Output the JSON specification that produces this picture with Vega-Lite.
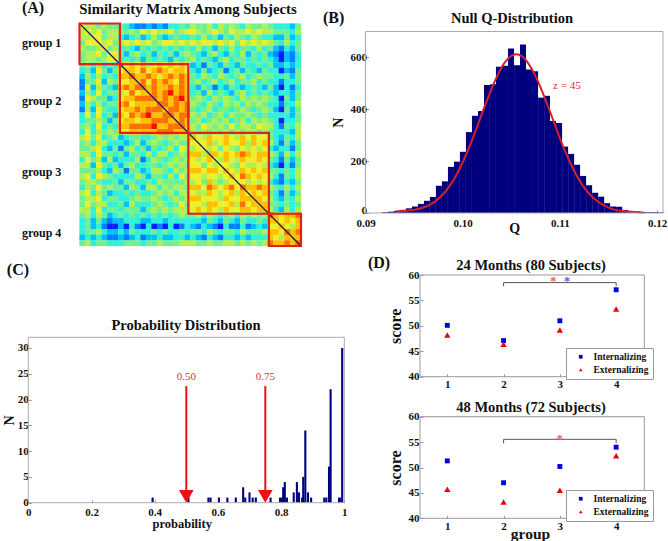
{"$schema":"https://vega.github.io/schema/vega-lite/v6.json","width":668,"height":541,"padding":0,"autosize":{"type":"none"},"background":"white",
"config":{"view":{"stroke":null},"axis":{"grid":false,"domain":false,"labelFont":"Liberation Serif","labelFontWeight":"bold","labelFontSize":11,"labelColor":"#111","tickColor":"#999","tickSize":-3,"labelOverlap":false,"labelFlush":false,"titleFont":"Liberation Serif","titleFontWeight":"bold","titleFontSize":14,"titleColor":"#111"},"text":{"font":"Liberation Serif","fontWeight":"bold","color":"#111"}},
"datasets":{"sim":[
{"r":1,"c":1,"v":6},{"r":1,"c":2,"v":5},{"r":1,"c":3,"v":5},{"r":1,"c":4,"v":4},{"r":1,"c":5,"v":5},{"r":1,"c":6,"v":4},{"r":1,"c":7,"v":4},{"r":1,"c":8,"v":4},{"r":1,"c":9,"v":3},{"r":1,"c":10,"v":2},{"r":1,"c":11,"v":1},{"r":1,"c":12,"v":1},{"r":1,"c":13,"v":2},{"r":1,"c":14,"v":1},{"r":1,"c":15,"v":2},{"r":1,"c":16,"v":1},{"r":1,"c":17,"v":3},{"r":1,"c":18,"v":3},{"r":1,"c":19,"v":4},{"r":1,"c":20,"v":3},{"r":1,"c":21,"v":5},{"r":1,"c":22,"v":4},{"r":1,"c":23,"v":4},{"r":1,"c":24,"v":5},{"r":1,"c":25,"v":3},{"r":1,"c":26,"v":5},{"r":1,"c":27,"v":4},{"r":1,"c":28,"v":5},{"r":1,"c":29,"v":4},{"r":1,"c":30,"v":3},{"r":1,"c":31,"v":5},{"r":1,"c":32,"v":4},{"r":1,"c":33,"v":4},{"r":1,"c":34,"v":5},{"r":1,"c":35,"v":4},{"r":1,"c":36,"v":3},{"r":1,"c":37,"v":3},{"r":1,"c":38,"v":3},{"r":1,"c":39,"v":2},{"r":1,"c":40,"v":4},
{"r":2,"c":2,"v":6},{"r":2,"c":3,"v":5},{"r":2,"c":4,"v":6},{"r":2,"c":5,"v":4},{"r":2,"c":6,"v":5},{"r":2,"c":7,"v":5},{"r":2,"c":8,"v":5},{"r":2,"c":9,"v":4},{"r":2,"c":10,"v":5},{"r":2,"c":11,"v":4},{"r":2,"c":12,"v":6},{"r":2,"c":13,"v":5},{"r":2,"c":14,"v":6},{"r":2,"c":15,"v":5},{"r":2,"c":16,"v":5},{"r":2,"c":17,"v":6},{"r":2,"c":18,"v":4},{"r":2,"c":19,"v":5},{"r":2,"c":20,"v":6},{"r":2,"c":21,"v":6},{"r":2,"c":22,"v":5},{"r":2,"c":23,"v":4},{"r":2,"c":24,"v":5},{"r":2,"c":25,"v":6},{"r":2,"c":26,"v":5},{"r":2,"c":27,"v":4},{"r":2,"c":28,"v":6},{"r":2,"c":29,"v":5},{"r":2,"c":30,"v":5},{"r":2,"c":31,"v":6},{"r":2,"c":32,"v":5},{"r":2,"c":33,"v":6},{"r":2,"c":34,"v":5},{"r":2,"c":35,"v":5},{"r":2,"c":36,"v":4},{"r":2,"c":37,"v":4},{"r":2,"c":38,"v":4},{"r":2,"c":39,"v":3},{"r":2,"c":40,"v":5},
{"r":3,"c":3,"v":6},{"r":3,"c":4,"v":6},{"r":3,"c":5,"v":4},{"r":3,"c":6,"v":5},{"r":3,"c":7,"v":5},{"r":3,"c":8,"v":3},{"r":3,"c":9,"v":2},{"r":3,"c":10,"v":3},{"r":3,"c":11,"v":4},{"r":3,"c":12,"v":2},{"r":3,"c":13,"v":3},{"r":3,"c":14,"v":5},{"r":3,"c":15,"v":3},{"r":3,"c":16,"v":2},{"r":3,"c":17,"v":3},{"r":3,"c":18,"v":4},{"r":3,"c":19,"v":3},{"r":3,"c":20,"v":3},{"r":3,"c":21,"v":4},{"r":3,"c":22,"v":3},{"r":3,"c":23,"v":5},{"r":3,"c":24,"v":3},{"r":3,"c":25,"v":4},{"r":3,"c":26,"v":2},{"r":3,"c":27,"v":4},{"r":3,"c":28,"v":3},{"r":3,"c":29,"v":5},{"r":3,"c":30,"v":4},{"r":3,"c":31,"v":3},{"r":3,"c":32,"v":5},{"r":3,"c":33,"v":4},{"r":3,"c":34,"v":3},{"r":3,"c":35,"v":3},{"r":3,"c":36,"v":2},{"r":3,"c":37,"v":2},{"r":3,"c":38,"v":4},{"r":3,"c":39,"v":2},{"r":3,"c":40,"v":3},
{"r":4,"c":4,"v":6},{"r":4,"c":5,"v":5},{"r":4,"c":6,"v":6},{"r":4,"c":7,"v":4},{"r":4,"c":8,"v":5},{"r":4,"c":9,"v":6},{"r":4,"c":10,"v":5},{"r":4,"c":11,"v":6},{"r":4,"c":12,"v":5},{"r":4,"c":13,"v":6},{"r":4,"c":14,"v":4},{"r":4,"c":15,"v":5},{"r":4,"c":16,"v":6},{"r":4,"c":17,"v":6},{"r":4,"c":18,"v":5},{"r":4,"c":19,"v":6},{"r":4,"c":20,"v":5},{"r":4,"c":21,"v":6},{"r":4,"c":22,"v":5},{"r":4,"c":23,"v":6},{"r":4,"c":24,"v":6},{"r":4,"c":25,"v":5},{"r":4,"c":26,"v":6},{"r":4,"c":27,"v":5},{"r":4,"c":28,"v":6},{"r":4,"c":29,"v":4},{"r":4,"c":30,"v":6},{"r":4,"c":31,"v":5},{"r":4,"c":32,"v":6},{"r":4,"c":33,"v":5},{"r":4,"c":34,"v":6},{"r":4,"c":35,"v":5},{"r":4,"c":36,"v":4},{"r":4,"c":37,"v":3},{"r":4,"c":38,"v":5},{"r":4,"c":39,"v":3},{"r":4,"c":40,"v":4},
{"r":5,"c":5,"v":6},{"r":5,"c":6,"v":4},{"r":5,"c":7,"v":5},{"r":5,"c":8,"v":3},{"r":5,"c":9,"v":4},{"r":5,"c":10,"v":3},{"r":5,"c":11,"v":2},{"r":5,"c":12,"v":4},{"r":5,"c":13,"v":3},{"r":5,"c":14,"v":4},{"r":5,"c":15,"v":3},{"r":5,"c":16,"v":4},{"r":5,"c":17,"v":3},{"r":5,"c":18,"v":4},{"r":5,"c":19,"v":3},{"r":5,"c":20,"v":4},{"r":5,"c":21,"v":3},{"r":5,"c":22,"v":5},{"r":5,"c":23,"v":3},{"r":5,"c":24,"v":4},{"r":5,"c":25,"v":2},{"r":5,"c":26,"v":4},{"r":5,"c":27,"v":3},{"r":5,"c":28,"v":5},{"r":5,"c":29,"v":3},{"r":5,"c":30,"v":4},{"r":5,"c":31,"v":4},{"r":5,"c":32,"v":3},{"r":5,"c":33,"v":5},{"r":5,"c":34,"v":3},{"r":5,"c":35,"v":4},{"r":5,"c":36,"v":2},{"r":5,"c":37,"v":1},{"r":5,"c":38,"v":3},{"r":5,"c":39,"v":2},{"r":5,"c":40,"v":4},
{"r":6,"c":6,"v":6},{"r":6,"c":7,"v":6},{"r":6,"c":8,"v":4},{"r":6,"c":9,"v":2},{"r":6,"c":10,"v":4},{"r":6,"c":11,"v":5},{"r":6,"c":12,"v":3},{"r":6,"c":13,"v":4},{"r":6,"c":14,"v":2},{"r":6,"c":15,"v":4},{"r":6,"c":16,"v":3},{"r":6,"c":17,"v":4},{"r":6,"c":18,"v":2},{"r":6,"c":19,"v":4},{"r":6,"c":20,"v":5},{"r":6,"c":21,"v":4},{"r":6,"c":22,"v":3},{"r":6,"c":23,"v":2},{"r":6,"c":24,"v":4},{"r":6,"c":25,"v":5},{"r":6,"c":26,"v":3},{"r":6,"c":27,"v":2},{"r":6,"c":28,"v":4},{"r":6,"c":29,"v":3},{"r":6,"c":30,"v":5},{"r":6,"c":31,"v":2},{"r":6,"c":32,"v":4},{"r":6,"c":33,"v":3},{"r":6,"c":34,"v":4},{"r":6,"c":35,"v":2},{"r":6,"c":36,"v":1},{"r":6,"c":37,"v":0},{"r":6,"c":38,"v":2},{"r":6,"c":39,"v":1},{"r":6,"c":40,"v":3},
{"r":7,"c":7,"v":6},{"r":7,"c":8,"v":3},{"r":7,"c":9,"v":4},{"r":7,"c":10,"v":3},{"r":7,"c":11,"v":4},{"r":7,"c":12,"v":2},{"r":7,"c":13,"v":4},{"r":7,"c":14,"v":3},{"r":7,"c":15,"v":4},{"r":7,"c":16,"v":3},{"r":7,"c":17,"v":2},{"r":7,"c":18,"v":4},{"r":7,"c":19,"v":3},{"r":7,"c":20,"v":4},{"r":7,"c":21,"v":5},{"r":7,"c":22,"v":3},{"r":7,"c":23,"v":4},{"r":7,"c":24,"v":3},{"r":7,"c":25,"v":2},{"r":7,"c":26,"v":4},{"r":7,"c":27,"v":5},{"r":7,"c":28,"v":3},{"r":7,"c":29,"v":4},{"r":7,"c":30,"v":4},{"r":7,"c":31,"v":3},{"r":7,"c":32,"v":4},{"r":7,"c":33,"v":3},{"r":7,"c":34,"v":4},{"r":7,"c":35,"v":3},{"r":7,"c":36,"v":2},{"r":7,"c":37,"v":0},{"r":7,"c":38,"v":2},{"r":7,"c":39,"v":1},{"r":7,"c":40,"v":3},
{"r":8,"c":8,"v":7},{"r":8,"c":9,"v":6},{"r":8,"c":10,"v":7},{"r":8,"c":11,"v":6},{"r":8,"c":12,"v":7},{"r":8,"c":13,"v":5},{"r":8,"c":14,"v":6},{"r":8,"c":15,"v":7},{"r":8,"c":16,"v":6},{"r":8,"c":17,"v":7},{"r":8,"c":18,"v":6},{"r":8,"c":19,"v":7},{"r":8,"c":20,"v":6},{"r":8,"c":21,"v":2},{"r":8,"c":22,"v":3},{"r":8,"c":23,"v":1},{"r":8,"c":24,"v":4},{"r":8,"c":25,"v":3},{"r":8,"c":26,"v":2},{"r":8,"c":27,"v":4},{"r":8,"c":28,"v":3},{"r":8,"c":29,"v":2},{"r":8,"c":30,"v":4},{"r":8,"c":31,"v":3},{"r":8,"c":32,"v":3},{"r":8,"c":33,"v":4},{"r":8,"c":34,"v":3},{"r":8,"c":35,"v":4},{"r":8,"c":36,"v":2},{"r":8,"c":37,"v":2},{"r":8,"c":38,"v":3},{"r":8,"c":39,"v":2},{"r":8,"c":40,"v":3},
{"r":9,"c":9,"v":7},{"r":9,"c":10,"v":7},{"r":9,"c":11,"v":6},{"r":9,"c":12,"v":8},{"r":9,"c":13,"v":6},{"r":9,"c":14,"v":7},{"r":9,"c":15,"v":8},{"r":9,"c":16,"v":7},{"r":9,"c":17,"v":6},{"r":9,"c":18,"v":7},{"r":9,"c":19,"v":7},{"r":9,"c":20,"v":6},{"r":9,"c":21,"v":3},{"r":9,"c":22,"v":2},{"r":9,"c":23,"v":4},{"r":9,"c":24,"v":2},{"r":9,"c":25,"v":3},{"r":9,"c":26,"v":4},{"r":9,"c":27,"v":1},{"r":9,"c":28,"v":3},{"r":9,"c":29,"v":4},{"r":9,"c":30,"v":2},{"r":9,"c":31,"v":4},{"r":9,"c":32,"v":3},{"r":9,"c":33,"v":2},{"r":9,"c":34,"v":4},{"r":9,"c":35,"v":3},{"r":9,"c":36,"v":3},{"r":9,"c":37,"v":0},{"r":9,"c":38,"v":2},{"r":9,"c":39,"v":1},{"r":9,"c":40,"v":4},
{"r":10,"c":10,"v":8},{"r":10,"c":11,"v":7},{"r":10,"c":12,"v":7},{"r":10,"c":13,"v":8},{"r":10,"c":14,"v":7},{"r":10,"c":15,"v":6},{"r":10,"c":16,"v":7},{"r":10,"c":17,"v":8},{"r":10,"c":18,"v":7},{"r":10,"c":19,"v":8},{"r":10,"c":20,"v":7},{"r":10,"c":21,"v":4},{"r":10,"c":22,"v":3},{"r":10,"c":23,"v":5},{"r":10,"c":24,"v":4},{"r":10,"c":25,"v":3},{"r":10,"c":26,"v":5},{"r":10,"c":27,"v":4},{"r":10,"c":28,"v":3},{"r":10,"c":29,"v":4},{"r":10,"c":30,"v":5},{"r":10,"c":31,"v":3},{"r":10,"c":32,"v":4},{"r":10,"c":33,"v":5},{"r":10,"c":34,"v":4},{"r":10,"c":35,"v":4},{"r":10,"c":36,"v":3},{"r":10,"c":37,"v":3},{"r":10,"c":38,"v":4},{"r":10,"c":39,"v":2},{"r":10,"c":40,"v":4},
{"r":11,"c":11,"v":7},{"r":11,"c":12,"v":8},{"r":11,"c":13,"v":6},{"r":11,"c":14,"v":8},{"r":11,"c":15,"v":7},{"r":11,"c":16,"v":8},{"r":11,"c":17,"v":7},{"r":11,"c":18,"v":6},{"r":11,"c":19,"v":8},{"r":11,"c":20,"v":7},{"r":11,"c":21,"v":4},{"r":11,"c":22,"v":5},{"r":11,"c":23,"v":3},{"r":11,"c":24,"v":4},{"r":11,"c":25,"v":5},{"r":11,"c":26,"v":3},{"r":11,"c":27,"v":4},{"r":11,"c":28,"v":5},{"r":11,"c":29,"v":3},{"r":11,"c":30,"v":4},{"r":11,"c":31,"v":4},{"r":11,"c":32,"v":5},{"r":11,"c":33,"v":3},{"r":11,"c":34,"v":4},{"r":11,"c":35,"v":3},{"r":11,"c":36,"v":3},{"r":11,"c":37,"v":1},{"r":11,"c":38,"v":3},{"r":11,"c":39,"v":3},{"r":11,"c":40,"v":4},
{"r":12,"c":12,"v":8},{"r":12,"c":13,"v":7},{"r":12,"c":14,"v":8},{"r":12,"c":15,"v":7},{"r":12,"c":16,"v":7},{"r":12,"c":17,"v":8},{"r":12,"c":18,"v":7},{"r":12,"c":19,"v":8},{"r":12,"c":20,"v":7},{"r":12,"c":21,"v":3},{"r":12,"c":22,"v":2},{"r":12,"c":23,"v":4},{"r":12,"c":24,"v":3},{"r":12,"c":25,"v":1},{"r":12,"c":26,"v":3},{"r":12,"c":27,"v":2},{"r":12,"c":28,"v":4},{"r":12,"c":29,"v":3},{"r":12,"c":30,"v":2},{"r":12,"c":31,"v":3},{"r":12,"c":32,"v":4},{"r":12,"c":33,"v":3},{"r":12,"c":34,"v":2},{"r":12,"c":35,"v":4},{"r":12,"c":36,"v":2},{"r":12,"c":37,"v":0},{"r":12,"c":38,"v":3},{"r":12,"c":39,"v":1},{"r":12,"c":40,"v":3},
{"r":13,"c":13,"v":7},{"r":13,"c":14,"v":8},{"r":13,"c":15,"v":7},{"r":13,"c":16,"v":8},{"r":13,"c":17,"v":9},{"r":13,"c":18,"v":7},{"r":13,"c":19,"v":8},{"r":13,"c":20,"v":7},{"r":13,"c":21,"v":3},{"r":13,"c":22,"v":4},{"r":13,"c":23,"v":2},{"r":13,"c":24,"v":5},{"r":13,"c":25,"v":3},{"r":13,"c":26,"v":4},{"r":13,"c":27,"v":3},{"r":13,"c":28,"v":2},{"r":13,"c":29,"v":4},{"r":13,"c":30,"v":5},{"r":13,"c":31,"v":3},{"r":13,"c":32,"v":4},{"r":13,"c":33,"v":3},{"r":13,"c":34,"v":4},{"r":13,"c":35,"v":3},{"r":13,"c":36,"v":2},{"r":13,"c":37,"v":3},{"r":13,"c":38,"v":3},{"r":13,"c":39,"v":2},{"r":13,"c":40,"v":4},
{"r":14,"c":14,"v":8},{"r":14,"c":15,"v":7},{"r":14,"c":16,"v":8},{"r":14,"c":17,"v":7},{"r":14,"c":18,"v":8},{"r":14,"c":19,"v":9},{"r":14,"c":20,"v":7},{"r":14,"c":21,"v":4},{"r":14,"c":22,"v":5},{"r":14,"c":23,"v":4},{"r":14,"c":24,"v":3},{"r":14,"c":25,"v":5},{"r":14,"c":26,"v":4},{"r":14,"c":27,"v":5},{"r":14,"c":28,"v":4},{"r":14,"c":29,"v":3},{"r":14,"c":30,"v":5},{"r":14,"c":31,"v":4},{"r":14,"c":32,"v":5},{"r":14,"c":33,"v":4},{"r":14,"c":34,"v":5},{"r":14,"c":35,"v":4},{"r":14,"c":36,"v":3},{"r":14,"c":37,"v":0},{"r":14,"c":38,"v":4},{"r":14,"c":39,"v":2},{"r":14,"c":40,"v":4},
{"r":15,"c":15,"v":8},{"r":15,"c":16,"v":8},{"r":15,"c":17,"v":7},{"r":15,"c":18,"v":8},{"r":15,"c":19,"v":7},{"r":15,"c":20,"v":8},{"r":15,"c":21,"v":5},{"r":15,"c":22,"v":4},{"r":15,"c":23,"v":3},{"r":15,"c":24,"v":5},{"r":15,"c":25,"v":4},{"r":15,"c":26,"v":3},{"r":15,"c":27,"v":5},{"r":15,"c":28,"v":4},{"r":15,"c":29,"v":5},{"r":15,"c":30,"v":3},{"r":15,"c":31,"v":5},{"r":15,"c":32,"v":4},{"r":15,"c":33,"v":5},{"r":15,"c":34,"v":4},{"r":15,"c":35,"v":3},{"r":15,"c":36,"v":3},{"r":15,"c":37,"v":1},{"r":15,"c":38,"v":3},{"r":15,"c":39,"v":3},{"r":15,"c":40,"v":5},
{"r":16,"c":16,"v":7},{"r":16,"c":17,"v":8},{"r":16,"c":18,"v":8},{"r":16,"c":19,"v":7},{"r":16,"c":20,"v":8},{"r":16,"c":21,"v":4},{"r":16,"c":22,"v":3},{"r":16,"c":23,"v":4},{"r":16,"c":24,"v":5},{"r":16,"c":25,"v":3},{"r":16,"c":26,"v":4},{"r":16,"c":27,"v":4},{"r":16,"c":28,"v":3},{"r":16,"c":29,"v":4},{"r":16,"c":30,"v":5},{"r":16,"c":31,"v":4},{"r":16,"c":32,"v":3},{"r":16,"c":33,"v":4},{"r":16,"c":34,"v":5},{"r":16,"c":35,"v":4},{"r":16,"c":36,"v":2},{"r":16,"c":37,"v":0},{"r":16,"c":38,"v":4},{"r":16,"c":39,"v":2},{"r":16,"c":40,"v":4},
{"r":17,"c":17,"v":8},{"r":17,"c":18,"v":7},{"r":17,"c":19,"v":8},{"r":17,"c":20,"v":8},{"r":17,"c":21,"v":5},{"r":17,"c":22,"v":4},{"r":17,"c":23,"v":5},{"r":17,"c":24,"v":3},{"r":17,"c":25,"v":4},{"r":17,"c":26,"v":5},{"r":17,"c":27,"v":3},{"r":17,"c":28,"v":5},{"r":17,"c":29,"v":4},{"r":17,"c":30,"v":4},{"r":17,"c":31,"v":5},{"r":17,"c":32,"v":4},{"r":17,"c":33,"v":3},{"r":17,"c":34,"v":4},{"r":17,"c":35,"v":3},{"r":17,"c":36,"v":3},{"r":17,"c":37,"v":3},{"r":17,"c":38,"v":3},{"r":17,"c":39,"v":2},{"r":17,"c":40,"v":4},
{"r":18,"c":18,"v":7},{"r":18,"c":19,"v":8},{"r":18,"c":20,"v":7},{"r":18,"c":21,"v":4},{"r":18,"c":22,"v":5},{"r":18,"c":23,"v":3},{"r":18,"c":24,"v":4},{"r":18,"c":25,"v":5},{"r":18,"c":26,"v":4},{"r":18,"c":27,"v":5},{"r":18,"c":28,"v":3},{"r":18,"c":29,"v":4},{"r":18,"c":30,"v":5},{"r":18,"c":31,"v":3},{"r":18,"c":32,"v":5},{"r":18,"c":33,"v":4},{"r":18,"c":34,"v":5},{"r":18,"c":35,"v":4},{"r":18,"c":36,"v":3},{"r":18,"c":37,"v":0},{"r":18,"c":38,"v":3},{"r":18,"c":39,"v":3},{"r":18,"c":40,"v":4},
{"r":19,"c":19,"v":8},{"r":19,"c":20,"v":7},{"r":19,"c":21,"v":5},{"r":19,"c":22,"v":4},{"r":19,"c":23,"v":6},{"r":19,"c":24,"v":5},{"r":19,"c":25,"v":4},{"r":19,"c":26,"v":5},{"r":19,"c":27,"v":4},{"r":19,"c":28,"v":6},{"r":19,"c":29,"v":4},{"r":19,"c":30,"v":5},{"r":19,"c":31,"v":5},{"r":19,"c":32,"v":4},{"r":19,"c":33,"v":6},{"r":19,"c":34,"v":5},{"r":19,"c":35,"v":5},{"r":19,"c":36,"v":3},{"r":19,"c":37,"v":1},{"r":19,"c":38,"v":4},{"r":19,"c":39,"v":3},{"r":19,"c":40,"v":5},
{"r":20,"c":20,"v":7},{"r":20,"c":21,"v":5},{"r":20,"c":22,"v":4},{"r":20,"c":23,"v":5},{"r":20,"c":24,"v":4},{"r":20,"c":25,"v":5},{"r":20,"c":26,"v":4},{"r":20,"c":27,"v":5},{"r":20,"c":28,"v":4},{"r":20,"c":29,"v":5},{"r":20,"c":30,"v":4},{"r":20,"c":31,"v":5},{"r":20,"c":32,"v":5},{"r":20,"c":33,"v":4},{"r":20,"c":34,"v":5},{"r":20,"c":35,"v":4},{"r":20,"c":36,"v":3},{"r":20,"c":37,"v":3},{"r":20,"c":38,"v":3},{"r":20,"c":39,"v":2},{"r":20,"c":40,"v":5},
{"r":21,"c":21,"v":7},{"r":21,"c":22,"v":6},{"r":21,"c":23,"v":5},{"r":21,"c":24,"v":7},{"r":21,"c":25,"v":6},{"r":21,"c":26,"v":6},{"r":21,"c":27,"v":7},{"r":21,"c":28,"v":6},{"r":21,"c":29,"v":5},{"r":21,"c":30,"v":7},{"r":21,"c":31,"v":6},{"r":21,"c":32,"v":7},{"r":21,"c":33,"v":6},{"r":21,"c":34,"v":6},{"r":21,"c":35,"v":4},{"r":21,"c":36,"v":3},{"r":21,"c":37,"v":2},{"r":21,"c":38,"v":4},{"r":21,"c":39,"v":3},{"r":21,"c":40,"v":5},
{"r":22,"c":22,"v":6},{"r":22,"c":23,"v":6},{"r":22,"c":24,"v":7},{"r":22,"c":25,"v":5},{"r":22,"c":26,"v":6},{"r":22,"c":27,"v":7},{"r":22,"c":28,"v":6},{"r":22,"c":29,"v":6},{"r":22,"c":30,"v":7},{"r":22,"c":31,"v":5},{"r":22,"c":32,"v":7},{"r":22,"c":33,"v":6},{"r":22,"c":34,"v":7},{"r":22,"c":35,"v":5},{"r":22,"c":36,"v":3},{"r":22,"c":37,"v":1},{"r":22,"c":38,"v":4},{"r":22,"c":39,"v":2},{"r":22,"c":40,"v":4},
{"r":23,"c":23,"v":6},{"r":23,"c":24,"v":5},{"r":23,"c":25,"v":6},{"r":23,"c":26,"v":4},{"r":23,"c":27,"v":6},{"r":23,"c":28,"v":5},{"r":23,"c":29,"v":4},{"r":23,"c":30,"v":6},{"r":23,"c":31,"v":5},{"r":23,"c":32,"v":6},{"r":23,"c":33,"v":5},{"r":23,"c":34,"v":6},{"r":23,"c":35,"v":3},{"r":23,"c":36,"v":2},{"r":23,"c":37,"v":3},{"r":23,"c":38,"v":3},{"r":23,"c":39,"v":1},{"r":23,"c":40,"v":4},
{"r":24,"c":24,"v":7},{"r":24,"c":25,"v":7},{"r":24,"c":26,"v":6},{"r":24,"c":27,"v":7},{"r":24,"c":28,"v":6},{"r":24,"c":29,"v":7},{"r":24,"c":30,"v":8},{"r":24,"c":31,"v":7},{"r":24,"c":32,"v":6},{"r":24,"c":33,"v":7},{"r":24,"c":34,"v":7},{"r":24,"c":35,"v":5},{"r":24,"c":36,"v":4},{"r":24,"c":37,"v":2},{"r":24,"c":38,"v":5},{"r":24,"c":39,"v":3},{"r":24,"c":40,"v":5},
{"r":25,"c":25,"v":6},{"r":25,"c":26,"v":5},{"r":25,"c":27,"v":7},{"r":25,"c":28,"v":6},{"r":25,"c":29,"v":5},{"r":25,"c":30,"v":7},{"r":25,"c":31,"v":6},{"r":25,"c":32,"v":6},{"r":25,"c":33,"v":7},{"r":25,"c":34,"v":6},{"r":25,"c":35,"v":4},{"r":25,"c":36,"v":3},{"r":25,"c":37,"v":1},{"r":25,"c":38,"v":4},{"r":25,"c":39,"v":2},{"r":25,"c":40,"v":4},
{"r":26,"c":26,"v":6},{"r":26,"c":27,"v":6},{"r":26,"c":28,"v":5},{"r":26,"c":29,"v":4},{"r":26,"c":30,"v":6},{"r":26,"c":31,"v":5},{"r":26,"c":32,"v":5},{"r":26,"c":33,"v":6},{"r":26,"c":34,"v":5},{"r":26,"c":35,"v":3},{"r":26,"c":36,"v":2},{"r":26,"c":37,"v":0},{"r":26,"c":38,"v":3},{"r":26,"c":39,"v":1},{"r":26,"c":40,"v":4},
{"r":27,"c":27,"v":7},{"r":27,"c":28,"v":6},{"r":27,"c":29,"v":5},{"r":27,"c":30,"v":7},{"r":27,"c":31,"v":6},{"r":27,"c":32,"v":7},{"r":27,"c":33,"v":6},{"r":27,"c":34,"v":7},{"r":27,"c":35,"v":4},{"r":27,"c":36,"v":4},{"r":27,"c":37,"v":3},{"r":27,"c":38,"v":4},{"r":27,"c":39,"v":3},{"r":27,"c":40,"v":5},
{"r":28,"c":28,"v":7},{"r":28,"c":29,"v":6},{"r":28,"c":30,"v":8},{"r":28,"c":31,"v":7},{"r":28,"c":32,"v":6},{"r":28,"c":33,"v":7},{"r":28,"c":34,"v":6},{"r":28,"c":35,"v":5},{"r":28,"c":36,"v":3},{"r":28,"c":37,"v":1},{"r":28,"c":38,"v":4},{"r":28,"c":39,"v":3},{"r":28,"c":40,"v":5},
{"r":29,"c":29,"v":6},{"r":29,"c":30,"v":6},{"r":29,"c":31,"v":5},{"r":29,"c":32,"v":6},{"r":29,"c":33,"v":5},{"r":29,"c":34,"v":6},{"r":29,"c":35,"v":3},{"r":29,"c":36,"v":2},{"r":29,"c":37,"v":1},{"r":29,"c":38,"v":3},{"r":29,"c":39,"v":2},{"r":29,"c":40,"v":4},
{"r":30,"c":30,"v":8},{"r":30,"c":31,"v":7},{"r":30,"c":32,"v":7},{"r":30,"c":33,"v":8},{"r":30,"c":34,"v":7},{"r":30,"c":35,"v":5},{"r":30,"c":36,"v":4},{"r":30,"c":37,"v":3},{"r":30,"c":38,"v":5},{"r":30,"c":39,"v":3},{"r":30,"c":40,"v":5},
{"r":31,"c":31,"v":6},{"r":31,"c":32,"v":7},{"r":31,"c":33,"v":6},{"r":31,"c":34,"v":7},{"r":31,"c":35,"v":4},{"r":31,"c":36,"v":3},{"r":31,"c":37,"v":1},{"r":31,"c":38,"v":4},{"r":31,"c":39,"v":2},{"r":31,"c":40,"v":4},
{"r":32,"c":32,"v":7},{"r":32,"c":33,"v":7},{"r":32,"c":34,"v":6},{"r":32,"c":35,"v":5},{"r":32,"c":36,"v":3},{"r":32,"c":37,"v":2},{"r":32,"c":38,"v":4},{"r":32,"c":39,"v":3},{"r":32,"c":40,"v":5},
{"r":33,"c":33,"v":7},{"r":33,"c":34,"v":7},{"r":33,"c":35,"v":4},{"r":33,"c":36,"v":4},{"r":33,"c":37,"v":3},{"r":33,"c":38,"v":4},{"r":33,"c":39,"v":3},{"r":33,"c":40,"v":4},
{"r":34,"c":34,"v":7},{"r":34,"c":35,"v":5},{"r":34,"c":36,"v":3},{"r":34,"c":37,"v":2},{"r":34,"c":38,"v":5},{"r":34,"c":39,"v":3},{"r":34,"c":40,"v":5},
{"r":35,"c":35,"v":8},{"r":35,"c":36,"v":7},{"r":35,"c":37,"v":6},{"r":35,"c":38,"v":7},{"r":35,"c":39,"v":7},{"r":35,"c":40,"v":8},
{"r":36,"c":36,"v":7},{"r":36,"c":37,"v":6},{"r":36,"c":38,"v":7},{"r":36,"c":39,"v":6},{"r":36,"c":40,"v":7},
{"r":37,"c":37,"v":7},{"r":37,"c":38,"v":6},{"r":37,"c":39,"v":5},{"r":37,"c":40,"v":7},
{"r":38,"c":38,"v":8},{"r":38,"c":39,"v":7},{"r":38,"c":40,"v":8},
{"r":39,"c":39,"v":7},{"r":39,"c":40,"v":7},
{"r":40,"c":40,"v":8}
]},
"resolve":{"scale":{"x":"independent","y":"independent","color":"independent","shape":"independent"},"axis":{"x":"independent","y":"independent"},"legend":{"color":"independent","shape":"independent"}},
"layer":[
{"encoding":{"x":{"field":"x","type":"quantitative","axis":null,"scale":{"domain":[0.5,40.5],"range":[79.5,301],"nice":false,"zero":false}},"y":{"field":"y","type":"quantitative","axis":null,"scale":{"domain":[0.5,40.5],"range":[23.5,246],"nice":false,"zero":false}}},
"layer":[
{"data":{"name":"sim"},"mark":{"type":"rect","width":5.8,"height":5.8},"encoding":{"x":{"field":"c","type":"quantitative"},"y":{"field":"r","type":"quantitative"},"color":{"field":"v","type":"quantitative","legend":null,"scale":{"domain":[0,1,2,3,4,5,6,7,8,9],"range":["#0020ff","#0080ff","#00c0ff","#30f0d8","#70f090","#b0f050","#ecf028","#ffc000","#ff7000","#f01000"]}}}},
{"data":{"name":"sim"},"mark":{"type":"rect","width":5.8,"height":5.8},"encoding":{"x":{"field":"r","type":"quantitative"},"y":{"field":"c","type":"quantitative"},"color":{"field":"v","type":"quantitative","legend":null}}},
{"data":{"values":[{"x":0.5,"y":0.5,"x2":40.5,"y2":40.5}]},"mark":{"type":"rule","color":"#14146e","strokeWidth":1.2},"encoding":{"x2":{"field":"x2"},"y2":{"field":"y2"}}},
{"data":{"values":[{"x":0.5,"y":0.5,"x2":7.8,"y2":7.8},{"x":7.8,"y":7.8,"x2":20.15,"y2":20.15},{"x":20.15,"y":20.15,"x2":34.7,"y2":34.7},{"x":34.7,"y":34.7,"x2":40.5,"y2":40.5}]},"mark":{"type":"rect","fillOpacity":0,"stroke":"#e0201c","strokeWidth":2.2},"encoding":{"x2":{"field":"x2"},"y2":{"field":"y2"}}},
{"data":{"values":[{"x":20.1,"y":-1.93,"t":"Similarity Matrix Among Subjects"}]},"mark":{"type":"text","fontSize":14.8,"align":"center","baseline":"middle"},"encoding":{"text":{"field":"t"}}},
{"data":{"values":[{"x":-9.9,"y":-2.29,"t":"(A)"}]},"mark":{"type":"text","fontSize":16,"align":"left","baseline":"middle"},"encoding":{"text":{"field":"t"}}},
{"data":{"values":[{"x":-9.9,"y":4.0,"t":"group 1"},{"x":-9.9,"y":14.4,"t":"group 2"},{"x":-9.9,"y":27.2,"t":"group 3"},{"x":-9.9,"y":38.1,"t":"group 4"}]},"mark":{"type":"text","fontSize":12,"align":"left","baseline":"middle"},"encoding":{"text":{"field":"t"}}}
]},
{"encoding":{"x":{"field":"x","type":"quantitative","axis":null,"scale":{"domain":[0.09,0.1206],"range":[365.5,663],"nice":false,"zero":false}},"y":{"field":"y","type":"quantitative","axis":null,"scale":{"domain":[0,700],"range":[213,31.5],"nice":false}}},
"layer":[
{"data":{"values":[{"x":0.09168,"x2":0.0923,"n":3},{"x":0.0923,"x2":0.09292,"n":5},{"x":0.09292,"x2":0.09353,"n":8},{"x":0.09353,"x2":0.09415,"n":12},{"x":0.09415,"x2":0.09477,"n":18},{"x":0.09477,"x2":0.09539,"n":25},{"x":0.09539,"x2":0.09601,"n":35},{"x":0.09601,"x2":0.09662,"n":47},{"x":0.09662,"x2":0.09724,"n":62},{"x":0.09724,"x2":0.09786,"n":105},{"x":0.09786,"x2":0.09848,"n":122},{"x":0.09848,"x2":0.0991,"n":178},{"x":0.0991,"x2":0.09971,"n":198},{"x":0.09971,"x2":0.10033,"n":236},{"x":0.10033,"x2":0.10095,"n":312},{"x":0.10095,"x2":0.10157,"n":375},{"x":0.10157,"x2":0.10219,"n":393},{"x":0.10219,"x2":0.1028,"n":494},{"x":0.1028,"x2":0.10342,"n":497},{"x":0.10342,"x2":0.10404,"n":564},{"x":0.10404,"x2":0.10466,"n":568},{"x":0.10466,"x2":0.10528,"n":634},{"x":0.10528,"x2":0.10589,"n":570},{"x":0.10589,"x2":0.10651,"n":650},{"x":0.10651,"x2":0.10713,"n":553},{"x":0.10713,"x2":0.10775,"n":547},{"x":0.10775,"x2":0.10837,"n":445},{"x":0.10837,"x2":0.10898,"n":452},{"x":0.10898,"x2":0.1096,"n":355},{"x":0.1096,"x2":0.11022,"n":347},{"x":0.11022,"x2":0.11084,"n":256},{"x":0.11084,"x2":0.11146,"n":228},{"x":0.11146,"x2":0.11207,"n":186},{"x":0.11207,"x2":0.11269,"n":143},{"x":0.11269,"x2":0.11331,"n":107},{"x":0.11331,"x2":0.11393,"n":78},{"x":0.11393,"x2":0.11455,"n":63},{"x":0.11455,"x2":0.11516,"n":38},{"x":0.11516,"x2":0.11578,"n":25},{"x":0.11578,"x2":0.1164,"n":24},{"x":0.1164,"x2":0.11702,"n":12},{"x":0.11702,"x2":0.11764,"n":8},{"x":0.11764,"x2":0.11825,"n":6},{"x":0.11825,"x2":0.11887,"n":4},{"x":0.11887,"x2":0.11949,"n":3},{"x":0.11949,"x2":0.12011,"n":3},{"x":0.12011,"x2":0.12073,"n":2}]},"mark":{"type":"rect","color":"#00007f"},"encoding":{"x2":{"field":"x2"},"y":{"field":"n","type":"quantitative"},"y2":{"datum":0}}},
{"data":{"values":[{"x":0.09306,"y":6},{"x":0.09408,"y":9},{"x":0.0951,"y":13},{"x":0.09612,"y":23},{"x":0.09714,"y":44},{"x":0.09816,"y":80},{"x":0.09918,"y":135},{"x":0.1002,"y":212},{"x":0.10122,"y":306},{"x":0.10224,"y":409},{"x":0.10326,"y":505},{"x":0.10428,"y":578},{"x":0.1053,"y":611},{"x":0.10551,"y":612},{"x":0.10632,"y":597},{"x":0.10734,"y":539},{"x":0.10837,"y":451},{"x":0.10939,"y":349},{"x":0.11041,"y":249},{"x":0.11143,"y":165},{"x":0.11245,"y":100},{"x":0.11347,"y":57},{"x":0.11449,"y":30},{"x":0.11551,"y":14},{"x":0.11653,"y":8},{"x":0.11755,"y":4},{"x":0.11857,"y":2}]},"mark":{"type":"line","color":"#d81e28","strokeWidth":2,"interpolate":"monotone"},"encoding":{}},
{"data":{"values":[{"x":0.10929,"y":489,"t":"z = 45"}]},"mark":{"type":"text","font":"Liberation Serif","fontWeight":"normal","color":"#e03030","fontSize":11,"align":"left","baseline":"middle"},"encoding":{"text":{"field":"t"}}},
{"data":{"values":[{"x":0.10507,"y":747,"t":"Null Q-Distribution"}]},"mark":{"type":"text","fontSize":14.5,"align":"center","baseline":"middle"},"encoding":{"text":{"field":"t"}}},
{"data":{"values":[{"x":0.08563,"y":752,"t":"(B)"}]},"mark":{"type":"text","fontSize":16,"align":"left","baseline":"middle"},"encoding":{"text":{"field":"t"}}}
]},
{"data":{"values":[{"x":0.09,"y":0,"x2":0.1206,"y2":700}]},"mark":{"type":"rect","fillOpacity":0,"stroke":"#aaa","strokeWidth":1},"encoding":{"x":{"field":"x","type":"quantitative","scale":{"domain":[0.09,0.1206],"range":[365.5,663],"nice":false,"zero":false},"axis":{"orient":"bottom","offset":-328,"values":[0.09,0.10,0.11,0.12],"format":".2f","title":"Q","labelPadding":7,"titlePadding":-7}},"y":{"field":"y","type":"quantitative","scale":{"domain":[0,700],"range":[213,31.5],"nice":false},"axis":{"orient":"left","offset":-365.5,"values":[0,200,400,600],"title":"N","labelPadding":2,"titlePadding":5,"labelOffset":{"condition":{"test":"datum.value === 0","value":-3},"value":0}}},"x2":{"field":"x2"},"y2":{"field":"y2"}}},
{"encoding":{"x":{"field":"x","type":"quantitative","axis":null,"scale":{"domain":[0,1],"range":[28.3,344.3],"nice":false,"zero":false}},"y":{"field":"y","type":"quantitative","axis":null,"scale":{"domain":[0,32.07],"range":[502.7,337.3],"nice":false}}},
"layer":[
{"data":{"values":[{"x":0.39,"x2":0.3967,"n":1},{"x":0.5033,"x2":0.51,"n":1},{"x":0.5667,"x2":0.5733,"n":1},{"x":0.5733,"x2":0.58,"n":1},{"x":0.6,"x2":0.6067,"n":1},{"x":0.6267,"x2":0.6333,"n":1},{"x":0.6533,"x2":0.66,"n":1},{"x":0.6767,"x2":0.6833,"n":3},{"x":0.6833,"x2":0.69,"n":1},{"x":0.6967,"x2":0.7033,"n":2},{"x":0.7067,"x2":0.7133,"n":1},{"x":0.7167,"x2":0.7233,"n":1},{"x":0.7633,"x2":0.77,"n":1},{"x":0.7933,"x2":0.8,"n":1},{"x":0.8,"x2":0.8067,"n":1},{"x":0.8033,"x2":0.81,"n":3},{"x":0.8083,"x2":0.815,"n":4},{"x":0.815,"x2":0.8217,"n":1},{"x":0.8367,"x2":0.8433,"n":2},{"x":0.8467,"x2":0.8533,"n":4},{"x":0.8533,"x2":0.86,"n":2},{"x":0.8633,"x2":0.87,"n":1},{"x":0.8667,"x2":0.8733,"n":5},{"x":0.8733,"x2":0.88,"n":14},{"x":0.8817,"x2":0.8883,"n":2},{"x":0.8917,"x2":0.8983,"n":1},{"x":0.9333,"x2":0.94,"n":1},{"x":0.94,"x2":0.9467,"n":1},{"x":0.9483,"x2":0.955,"n":7},{"x":0.9533,"x2":0.96,"n":22},{"x":0.98,"x2":0.9867,"n":1},{"x":0.9867,"x2":0.99,"n":1},{"x":0.99,"x2":0.9967,"n":30}]},"mark":{"type":"rect","color":"#00007f"},"encoding":{"x2":{"field":"x2"},"y":{"field":"n","type":"quantitative"},"y2":{"datum":0}}},
{"data":{"values":[{"x":0.5,"y":22.6,"y2":1},{"x":0.75,"y":22.6,"y2":1}]},"mark":{"type":"rule","color":"#f01010","strokeWidth":2},"encoding":{"y2":{"field":"y2"}}},
{"data":{"values":[{"x":0.5,"y":1.23},{"x":0.75,"y":1.23}]},"mark":{"type":"point","shape":"triangle-down","size":216,"filled":true,"color":"#f01010","opacity":1},"encoding":{}},
{"data":{"values":[{"x":0.5,"y":24.3,"t":"0.50"},{"x":0.75,"y":24.3,"t":"0.75"}]},"mark":{"type":"text","font":"Liberation Serif","fontWeight":"normal","color":"#e03030","fontSize":11,"align":"center","baseline":"middle"},"encoding":{"text":{"field":"t"}}},
{"data":{"values":[{"x":0.499,"y":34.3,"t":"Probability Distribution"}]},"mark":{"type":"text","fontSize":14.5,"align":"center","baseline":"middle"},"encoding":{"text":{"field":"t"}}},
{"data":{"values":[{"x":-0.068,"y":45.1,"t":"(C)"}]},"mark":{"type":"text","fontSize":16,"align":"left","baseline":"middle"},"encoding":{"text":{"field":"t"}}}
]},
{"data":{"values":[{"x":0,"y":0,"x2":1,"y2":32.07}]},"mark":{"type":"rect","fillOpacity":0,"stroke":"#aaa","strokeWidth":1},"encoding":{"x":{"field":"x","type":"quantitative","scale":{"domain":[0,1],"range":[28.3,344.3],"nice":false,"zero":false},"axis":{"orient":"bottom","offset":-38.3,"values":[0,0.2,0.4,0.6,0.8,1],"format":".1~f","title":"probability","titleFontSize":12.5,"titleX":181.7,"labelPadding":7,"titlePadding":0}},"y":{"field":"y","type":"quantitative","scale":{"domain":[0,32.07],"range":[502.7,337.3],"nice":false},"axis":{"orient":"left","offset":-28.3,"values":[0,5,10,15,20,25,30],"title":"N","labelPadding":3,"titlePadding":1}},"x2":{"field":"x2"},"y2":{"field":"y2"}}},
{"encoding":{"x":{"field":"x","type":"quantitative","axis":null,"scale":{"domain":[0.515,4.5],"range":[420,644.3],"nice":false,"zero":false}},"y":{"field":"y","type":"quantitative","axis":null,"scale":{"domain":[40,60],"range":[376.7,275],"nice":false,"zero":false}}},
"layer":[
{"data":{"values":[{"x":2,"y":58.5,"x2":4,"y2":58.5},{"x":2,"y":58.5,"x2":2,"y2":57.8},{"x":4,"y":58.5,"x2":4,"y2":57.8}]},"mark":{"type":"rule","color":"#555","strokeWidth":1},"encoding":{"x2":{"field":"x2"},"y2":{"field":"y2"}}},
{"data":{"values":[{"x":2.883,"y":60,"t":"*"}]},"mark":{"type":"text","color":"#f06060","fontSize":13,"align":"center","baseline":"top"},"encoding":{"text":{"field":"t"}}},
{"data":{"values":[{"x":3.126,"y":60,"t":"*"}]},"mark":{"type":"text","color":"#6060f0","fontSize":13,"align":"center","baseline":"top"},"encoding":{"text":{"field":"t"}}},
{"data":{"values":[{"x":1,"y":50.1,"s":"Internalizing"},{"x":2,"y":47.1,"s":"Internalizing"},{"x":3,"y":51,"s":"Internalizing"},{"x":4,"y":57.1,"s":"Internalizing"}]},"mark":{"type":"point","filled":true,"opacity":1,"size":24},"encoding":{"color":{"field":"s","type":"nominal","scale":{"domain":["Internalizing","Externalizing"],"range":["#0000e0","#f00000"]},"legend":{"orient":"none","legendX":566,"legendY":348,"title":null,"strokeColor":"#999","fillColor":"white","padding":4,"labelFont":"Liberation Serif","labelFontWeight":"bold","labelFontSize":9.5,"labelColor":"#111","symbolSize":14,"rowPadding":2,"labelOffset":8,"symbolOffset":6}},"shape":{"field":"s","type":"nominal","scale":{"domain":["Internalizing","Externalizing"],"range":["square","triangle-up"]}}}},
{"data":{"values":[{"x":1,"y":48.2,"s":"Externalizing"},{"x":2,"y":46.4,"s":"Externalizing"},{"x":3,"y":49.2,"s":"Externalizing"},{"x":4,"y":53.3,"s":"Externalizing"}]},"mark":{"type":"point","filled":true,"opacity":1,"size":40},"encoding":{"color":{"field":"s","type":"nominal"},"shape":{"field":"s","type":"nominal"}}},
{"data":{"values":[{"x":2.487,"y":61.77,"t":"24 Months (80 Subjects)"}]},"mark":{"type":"text","fontSize":14.5,"align":"center","baseline":"middle"},"encoding":{"text":{"field":"t"}}},
{"data":{"values":[{"x":-0.409,"y":62.36,"t":"(D)"}]},"mark":{"type":"text","fontSize":16,"align":"left","baseline":"middle"},"encoding":{"text":{"field":"t"}}}
]},
{"data":{"values":[{"x":0.515,"y":40,"x2":4.5,"y2":60}]},"mark":{"type":"rect","fillOpacity":0,"stroke":"#999","strokeWidth":1},"encoding":{"x":{"field":"x","type":"quantitative","scale":{"domain":[0.515,4.5],"range":[420,644.3],"nice":false,"zero":false},"axis":{"orient":"bottom","offset":-164.3,"values":[1,2,3,4],"format":"d","title":null,"labelPadding":5}},"y":{"field":"y","type":"quantitative","scale":{"domain":[40,60],"range":[376.7,275],"nice":false,"zero":false},"axis":{"orient":"left","offset":-420,"values":[40,45,50,55,60],"title":"score","titleFontSize":16,"labelPadding":4,"titlePadding":5}},"x2":{"field":"x2"},"y2":{"field":"y2"}}},
{"encoding":{"x":{"field":"x","type":"quantitative","axis":null,"scale":{"domain":[0.515,4.5],"range":[420,644.3],"nice":false,"zero":false}},"y":{"field":"y","type":"quantitative","axis":null,"scale":{"domain":[40,60],"range":[518.3,416.7],"nice":false,"zero":false}}},
"layer":[
{"data":{"values":[{"x":2,"y":55.55,"x2":4,"y2":55.55},{"x":2,"y":55.55,"x2":2,"y2":54.76},{"x":4,"y":55.55,"x2":4,"y2":54.76}]},"mark":{"type":"rule","color":"#555","strokeWidth":1},"encoding":{"x2":{"field":"x2"},"y2":{"field":"y2"}}},
{"data":{"values":[{"x":3,"y":56.8,"t":"*"}]},"mark":{"type":"text","color":"#f06060","fontSize":13,"align":"center","baseline":"top"},"encoding":{"text":{"field":"t"}}},
{"data":{"values":[{"x":1,"y":51.3,"s":"Internalizing"},{"x":2,"y":47,"s":"Internalizing"},{"x":3,"y":50.2,"s":"Internalizing"},{"x":4,"y":54,"s":"Internalizing"}]},"mark":{"type":"point","filled":true,"opacity":1,"size":24},"encoding":{"color":{"field":"s","type":"nominal","scale":{"domain":["Internalizing","Externalizing"],"range":["#0000e0","#f00000"]},"legend":{"orient":"none","legendX":566,"legendY":490,"title":null,"strokeColor":"#999","fillColor":"white","padding":4,"labelFont":"Liberation Serif","labelFontWeight":"bold","labelFontSize":9.5,"labelColor":"#111","symbolSize":14,"rowPadding":2,"labelOffset":8,"symbolOffset":6}},"shape":{"field":"s","type":"nominal","scale":{"domain":["Internalizing","Externalizing"],"range":["square","triangle-up"]}}}},
{"data":{"values":[{"x":1,"y":45.7,"s":"Externalizing"},{"x":2,"y":43.2,"s":"Externalizing"},{"x":3,"y":45.5,"s":"Externalizing"},{"x":4,"y":52.3,"s":"Externalizing"}]},"mark":{"type":"point","filled":true,"opacity":1,"size":40},"encoding":{"color":{"field":"s","type":"nominal"},"shape":{"field":"s","type":"nominal"}}},
{"data":{"values":[{"x":2.487,"y":61.77,"t":"48 Months (72 Subjects)"}]},"mark":{"type":"text","fontSize":14.5,"align":"center","baseline":"middle"},"encoding":{"text":{"field":"t"}}}
]},
{"data":{"values":[{"x":0.515,"y":40,"x2":4.5,"y2":60}]},"mark":{"type":"rect","fillOpacity":0,"stroke":"#999","strokeWidth":1},"encoding":{"x":{"field":"x","type":"quantitative","scale":{"domain":[0.515,4.5],"range":[420,644.3],"nice":false,"zero":false},"axis":{"orient":"bottom","offset":-22.7,"values":[1,2,3,4],"format":"d","title":"group","titleFontSize":15.5,"titleX":530,"labelPadding":5,"titlePadding":-5}},"y":{"field":"y","type":"quantitative","scale":{"domain":[40,60],"range":[518.3,416.7],"nice":false,"zero":false},"axis":{"orient":"left","offset":-420,"values":[40,45,50,55,60],"title":"score","titleFontSize":16,"labelPadding":4,"titlePadding":5}},"x2":{"field":"x2"},"y2":{"field":"y2"}}}
]}
